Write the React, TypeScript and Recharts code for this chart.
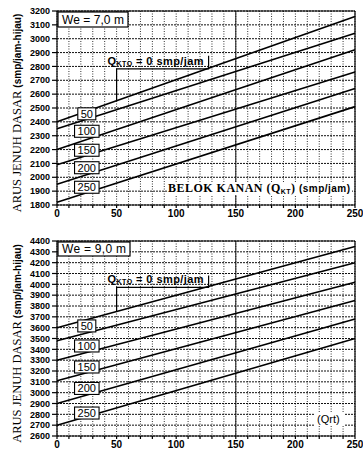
import React from 'react';
import {
  LineChart,
  Line,
  XAxis,
  YAxis,
  CartesianGrid,
  ReferenceLine,
  ReferenceDot,
  Label,
} from 'recharts';

const SANS = '"Liberation Sans", Arial, sans-serif';
const SERIF = '"Liberation Serif", "Times New Roman", serif';

const QRT_MAX = 250;
// one line per opposing right-turn flow Q_RTO (smp/jam)
const qrtoLevels = [0, 50, 100, 150, 200, 250];

// basic saturation flow S0 at Q_RT = 0 and at Q_RT = 250, We = 7,0 m
const s0We7AtZero = [2400, 2350, 2200, 2090, 1950, 1820];
const s0We7AtMax = [3160, 3040, 2920, 2760, 2640, 2510];
const tagsWe7 = [2458, 2332, 2195, 2069, 1928];

// same for We = 9,0 m
const s0We9AtZero = [3600, 3480, 3300, 3110, 2900, 2700];
const s0We9AtMax = [4350, 4200, 4020, 3850, 3680, 3500];
const tagsWe9 = [3616, 3431, 3237, 3039, 2812];

const yTicksWe7 = [1800, 1900, 2000, 2100, 2200, 2300, 2400, 2500, 2600, 2700, 2800, 2900, 3000, 3100, 3200];
const yTicksWe9 = [
  2600, 2700, 2800, 2900, 3000, 3100, 3200, 3300, 3400, 3500, 3600, 3700, 3800, 3900, 4000, 4100, 4200,
  4300, 4400,
];
const xLabels = [0, 50, 100, 150, 200, 250];
const xMinor = Array.from({ length: QRT_MAX / 10 + 1 }, (_, i) => i * 10);
const TAG_QRT = 25;

const buildRows = (atZero: number[], atMax: number[]) => [
  Object.fromEntries([['qrt', 0], ...qrtoLevels.map((q, i) => [`q${q}`, atZero[i]])]),
  Object.fromEntries([['qrt', QRT_MAX], ...qrtoLevels.map((q, i) => [`q${q}`, atMax[i]])]),
];

const YTitle = ({ viewBox }: any) => {
  const cy = viewBox ? viewBox.y + viewBox.height / 2 + 5 : 113;
  return (
    <text
      transform={`translate(17, ${cy}) rotate(-90)`}
      textAnchor="middle"
      dominantBaseline="central"
      fill="#000"
    >
      <tspan fontFamily={SERIF} fontSize={12.5}>ARUS JENUH DASAR </tspan>
      <tspan fontFamily={SANS} fontSize={10} fontWeight={700}>(smp/jam-hijau)</tspan>
    </text>
  );
};

const LevelTag = ({ cx, cy, text }: any) => {
  const w = text.length * 6.5 + 5;
  return (
    <g>
      <rect x={cx - w / 2} y={cy - 6} width={w} height={12} fill="#fff" stroke="#000" strokeWidth={1.1} />
      <text x={cx} y={cy + 4} textAnchor="middle" fontSize={11} fontFamily={SANS} fill="#000">
        {text}
      </text>
    </g>
  );
};

// L-shaped leader from the Q_RTO = 0 line up to its caption
const ZeroLeader = ({ cx, cy, rise, bracket }: any) => (
  <g>
    <polyline
      points={`${cx},${cy} ${cx},${cy - rise} ${cx + 92},${cy - rise} ${cx + 92},${cy - rise - bracket}`}
      fill="none"
      stroke="#000"
      strokeWidth={1.2}
    />
    <text
      x={cx - 9}
      y={cy - rise - 4}
      fontFamily={SANS}
      fontWeight={700}
      fontSize={11}
      fill="#000"
      textLength={96}
      lengthAdjust="spacing"
    >
      Q
      <tspan fontSize={7} dy={1}>KTO</tspan>
      <tspan dy={-1}> = 0 smp/jam</tspan>
    </text>
  </g>
);

const WidthBox = ({ cx, cy, text, w, h }: any) => (
  <g>
    <rect x={cx + 1} y={cy + 1} width={w} height={h} fill="#fff" stroke="#000" strokeWidth={1.2} />
    <text x={cx + 5} y={cy + h - 2} fontFamily={SANS} fontSize={12} fill="#000" textLength={w - 8}>
      {text}
    </text>
  </g>
);

const BelokCaption = ({ cx, cy }: any) => (
  <g>
    <rect x={cx - 188} y={cy - 23} width={185} height={13} fill="#fff" />
    <text x={cx - 187} y={cy - 13} fill="#000" textLength={182} lengthAdjust="spacing">
      <tspan fontFamily={SERIF} fontSize={12} fontWeight={700}>BELOK KANAN (Q</tspan>
      <tspan fontFamily={SANS} fontSize={7} fontWeight={700} dy={2}>KT</tspan>
      <tspan fontFamily={SERIF} fontSize={12} fontWeight={700} dy={-2}>) </tspan>
      <tspan fontFamily={SANS} fontSize={10} fontWeight={700}>(smp/jam)</tspan>
    </text>
  </g>
);

const QrtCaption = ({ cx, cy }: any) => (
  <g>
    <rect x={cx - 40} y={cy - 24} width={30} height={14} fill="#fff" />
    <text x={cx - 38} y={cy - 13} fontFamily={SANS} fontSize={11} fill="#000">
      (Qrt)
    </text>
  </g>
);

type PanelProps = {
  atZero: number[];
  atMax: number[];
  tags: number[];
  yTicks: number[];
  we: string;
  weW: number;
  weH: number;
  height: number;
  xAxisHeight: number;
  rise: number;
  bracket: number;
  caption: 'belok' | 'qrt';
};

function Panel(p: PanelProps) {
  const rows = buildRows(p.atZero, p.atMax);
  const yMin = p.yTicks[0];
  const yMax = p.yTicks[p.yTicks.length - 1];
  const zeroAt50 = p.atZero[0] + ((p.atMax[0] - p.atZero[0]) * 50) / QRT_MAX;

  return (
    <LineChart width={363} height={p.height} data={rows} margin={{ top: 11, right: 8, left: 0, bottom: 0 }}>
      <CartesianGrid horizontal={false} stroke="#333" strokeDasharray="1 1.5" />
      <CartesianGrid vertical={false} stroke="#111" strokeDasharray="2 1" />
      <ReferenceLine x={150} stroke="#111" strokeWidth={1} />
      <XAxis
        type="number"
        dataKey="qrt"
        domain={[0, QRT_MAX]}
        ticks={xMinor}
        interval={0}
        tickFormatter={(v: number) => (xLabels.includes(v) ? String(v) : '')}
        tickSize={3}
        height={p.xAxisHeight}
        stroke="#000"
        strokeWidth={1.2}
        tick={{ fill: '#000', fontSize: 10, fontWeight: 700, fontFamily: SANS }}
      />
      <YAxis
        type="number"
        domain={[yMin, yMax]}
        ticks={p.yTicks}
        interval={0}
        tickSize={5}
        width={57}
        stroke="#000"
        strokeWidth={1.2}
        allowDataOverflow
        tick={{ fill: '#000', fontSize: 9, fontWeight: 700, fontFamily: SANS }}
      >
        <Label content={(props: any) => <YTitle {...props} />} />
      </YAxis>
      <ReferenceLine y={yMax} stroke="#000" strokeWidth={1.2} />
      <ReferenceLine x={QRT_MAX} stroke="#000" strokeWidth={1.2} />
      {qrtoLevels.map((q) => (
        <Line
          key={q}
          type="linear"
          dataKey={`q${q}`}
          stroke="#000"
          strokeWidth={1.6}
          dot={false}
          activeDot={false}
          isAnimationActive={false}
        />
      ))}
      <ReferenceDot
        x={50}
        y={zeroAt50}
        r={0}
        ifOverflow="visible"
        shape={(s: any) => <ZeroLeader cx={s.cx} cy={s.cy} rise={p.rise} bracket={p.bracket} />}
      />
      {p.tags.map((v, i) => (
        <ReferenceDot
          key={`tag-${i}`}
          x={TAG_QRT}
          y={v}
          r={0}
          ifOverflow="visible"
          shape={(s: any) => <LevelTag cx={s.cx} cy={s.cy} text={String(qrtoLevels[i + 1])} />}
        />
      ))}
      <ReferenceDot
        x={0}
        y={yMax}
        r={0}
        ifOverflow="visible"
        shape={(s: any) => <WidthBox cx={s.cx} cy={s.cy} text={p.we} w={p.weW} h={p.weH} />}
      />
      <ReferenceDot
        x={QRT_MAX}
        y={yMin}
        r={0}
        ifOverflow="visible"
        shape={(s: any) =>
          p.caption === 'belok' ? <BelokCaption cx={s.cx} cy={s.cy} /> : <QrtCaption cx={s.cx} cy={s.cy} />
        }
      />
    </LineChart>
  );
}

export default function App() {
  return (
    <div style={{ position: 'absolute', left: 0, top: 0, width: 363, height: 454, background: '#fff' }}>
      <div style={{ position: 'absolute', left: 0, top: 0 }}>
        <Panel
          atZero={s0We7AtZero}
          atMax={s0We7AtMax}
          tags={tagsWe7}
          yTicks={yTicksWe7}
          we="We = 7,0 m"
          weW={70}
          weH={15}
          height={227}
          xAxisHeight={22}
          rise={32}
          bracket={13}
          caption="belok"
        />
      </div>
      <div style={{ position: 'absolute', left: 0, top: 230 }}>
        <Panel
          atZero={s0We9AtZero}
          atMax={s0We9AtMax}
          tags={tagsWe9}
          yTicks={yTicksWe9}
          we="We = 9,0 m"
          weW={72}
          weH={14}
          height={224}
          xAxisHeight={18}
          rise={24}
          bracket={12}
          caption="qrt"
        />
      </div>
    </div>
  );
}
